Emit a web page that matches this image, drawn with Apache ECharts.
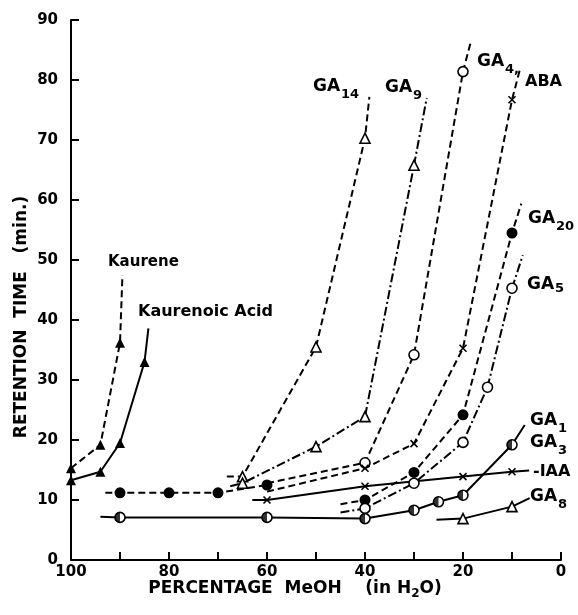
<!DOCTYPE html>
<html><head><meta charset="utf-8">
<script src="https://cdn.jsdelivr.net/npm/echarts@6/dist/echarts.min.js"></script>
<style>html,body{margin:0;padding:0;background:#fff}#c{width:578px;height:615px}</style>
</head><body><div id="c"></div>
<script>
// ---- data (x = % MeOH, y = retention time, min) ----
const xTickLabels = [100, 80, 60, 40, 20, 0];
const yTickLabels = [0, 10, 20, 30, 40, 50, 60, 70, 80, 90];

const kaurene      = [[100,15.3],[94,19.2],[90,36.2]];
const kaureneLine  = [null, [89.5,47.5]];
const kaurenoic    = [[100,13.3],[94,14.7],[90,19.5],[85,33]];
const kaurenoicLine= [null, [84.2,38.6]];
const ga14         = [[65,13.9],[50,35.5],[40,70.3]];
const ga14Line     = [[68.2,13.9],[39.1,77.2]];
const ga9          = [[65,12.8],[50,18.9],[40,23.9],[30,65.8]];
const ga9Line      = [[67.5,12.3],[27.4,77]];
const ga4          = [[40,16.2],[30,34.2],[20,81.4]];
const ga4Line      = [[60,12.8],[18.4,86.4]];
const aba          = [[40,15.3],[30,19.4],[20,35.3],[10,76.7]];
const abaLine      = [[60,11.4],[8.4,81.7]];
const earlyFilled  = [[90,11.2],[80,11.2],[70,11.2],[60,12.5]];
const earlyLine    = [[93,11.2], null];
const ga20         = [[40,10],[30,14.6],[20,24.2],[10,54.5]];
const ga20Line     = [[45,9.3],[8.1,59.4]];
const ga5          = [[40,8.6],[30,12.8],[20,19.6],[15,28.8],[10,45.3]];
const ga5Line      = [[45,7.9],[7.8,50.8]];
const ga1ga3       = [[90,7.1],[60,7.1],[40,6.9],[30,8.3],[25,9.7],[20,10.8],[10,19.2]];
const ga1ga3Line   = [[94,7.2],[7.4,22.5]];
const iaa          = [[60,10],[40,12.3],[20,13.9],[10,14.7]];
const iaaLine      = [[63,10],[6.5,14.9]];
const ga8          = [[20,6.9],[10,8.9]];
const ga8Line      = [[25.4,6.7],[6.4,10.3]];

// ---- styles ----
const DASH = [7, 4];
const DASHDOT = [9, 3, 2, 3];
const FONT = '"DejaVu Sans", "Liberation Sans", sans-serif';
const CROSS = 'path://M0,0 L10,10 M10,0 L0,10';
const HALF = 'path://M10,0 A10,10 0 0,0 10,20 Z';

const MARK = {
  filledTri: {symbol:'triangle', symbolSize:10, itemStyle:{color:'#000'}},
  openTri:   {symbol:'triangle', symbolSize:10, itemStyle:{color:'#fff', borderColor:'#000', borderWidth:1.6}},
  filledCirc:{symbol:'circle', symbolSize:11, itemStyle:{color:'#000'}},
  openCirc:  {symbol:'circle', symbolSize:10, itemStyle:{color:'#fff', borderColor:'#000', borderWidth:1.6}},
  cross:     {symbol:CROSS, symbolSize:7, itemStyle:{color:'none', borderColor:'#000', borderWidth:1.6}}
};

function build(points, ends) {
  const d = [];
  if (ends && ends[0]) d.push({value: ends[0], symbol:'none'});
  points.forEach(p => d.push({value: p}));
  if (ends && ends[1]) d.push({value: ends[1], symbol:'none'});
  return d;
}
function line(name, points, ends, mark, dash) {
  return Object.assign({
    name, type:'line', data: build(points, ends), z: 3,
    lineStyle:{color:'#000', width:2, type: dash || 'solid'},
    emphasis:{disabled:true}, animation:false, silent:true
  }, JSON.parse(JSON.stringify(mark)));
}

const series = [
  line('Kaurene', kaurene, kaureneLine, MARK.filledTri, DASH),
  line('Kaurenoic Acid', kaurenoic, kaurenoicLine, MARK.filledTri),
  line('GA14', ga14, ga14Line, MARK.openTri, DASH),
  line('GA9', ga9, ga9Line, MARK.openTri, DASHDOT),
  line('GA4', ga4, ga4Line, MARK.openCirc, DASH),
  line('ABA', aba, abaLine, MARK.cross, DASH),
  line('early', earlyFilled, earlyLine, MARK.filledCirc, DASH),
  line('GA20', ga20, ga20Line, MARK.filledCirc, DASH),
  line('GA5', ga5, ga5Line, MARK.openCirc, DASHDOT),
  line('IAA', iaa, iaaLine, MARK.cross),
  line('GA8', ga8, ga8Line, MARK.openTri),
  line('GA1/GA3', ga1ga3, ga1ga3Line, MARK.openCirc),
  {name:'GA1/GA3 fill', type:'scatter', data: ga1ga3, symbol: HALF, symbolSize:[5,10], symbolOffset:[-2.5,0],
   itemStyle:{color:'#000'}, z:4, silent:true, animation:false}
];

function t(x, y, text, size, extra) {
  return Object.assign({type:'text', x, y, z:100, silent:true,
    style:{text, font:`bold ${size}px ${FONT}`, fill:'#000', textVerticalAlign:'middle'}}, extra || {});
}
function ga(x, y, sub, dx, dy) {
  return [t(x, y, 'GA', 17), t(x + (dx || 28), y + (dy || 8), sub, 13)];
}

const graphic = [
  t(108, 262, 'Kaurene', 15),
  t(138, 312, 'Kaurenoic Acid', 16),
  ...ga(313, 87, '14'),
  ...ga(385, 88, '9'),
  ...ga(477, 62, '4,'),
  t(525, 82, 'ABA', 16),
  ...ga(528, 219, '20'),
  ...ga(527, 285, '5', 28, 4),
  ...ga(530, 421, '1'),
  ...ga(530, 443, '3'),
  t(533, 472, '-IAA', 16),
  ...ga(530, 497, '8'),
  {type:'text', x:22, y:317, rotation:Math.PI/2, z:100, silent:true,
   style:{text:'RETENTION  TIME   (min.)', font:`bold 17px ${FONT}`, fill:'#000', textAlign:'center', textVerticalAlign:'middle'}},
  {type:'text', x:295, y:589, z:100, silent:true,
   style:{text:'{a|PERCENTAGE  MeOH    (in H}{s|2}{a|O)}', fill:'#000', textAlign:'center', textVerticalAlign:'middle',
     rich:{a:{font:`bold 17px ${FONT}`, fill:'#000'}, s:{font:`bold 12px ${FONT}`, fill:'#000', padding:[10,0,0,0]}}}}
];

const chart = echarts.init(document.getElementById('c'), null, {renderer:'canvas'});
chart.setOption({
  animation:false,
  backgroundColor:'#fff',
  grid:{left:71, right:17, top:20, bottom:55, containLabel:false},
  xAxis:{type:'value', inverse:true, min:0, max:100, interval:10,
    axisLine:{onZero:false, lineStyle:{color:'#000', width:2}},
    axisTick:{inside:true, length:8, lineStyle:{color:'#000', width:2}},
    splitLine:{show:false},
    axisLabel:{color:'#000', fontFamily:FONT, fontWeight:'bold', fontSize:15, margin:5,
      formatter: v => xTickLabels.indexOf(v) >= 0 ? String(v) : ''}},
  yAxis:{type:'value', min:0, max:90, interval:10, position:'left',
    axisLine:{show:true, onZero:false, lineStyle:{color:'#000', width:2}},
    axisTick:{show:true, inside:true, length:8, lineStyle:{color:'#000', width:2}},
    splitLine:{show:false},
    axisLabel:{color:'#000', fontFamily:FONT, fontWeight:'bold', fontSize:15, margin:13,
      formatter: v => yTickLabels.indexOf(v) >= 0 ? String(v) : ''}},
  series,
  graphic
});
</script></body></html>
